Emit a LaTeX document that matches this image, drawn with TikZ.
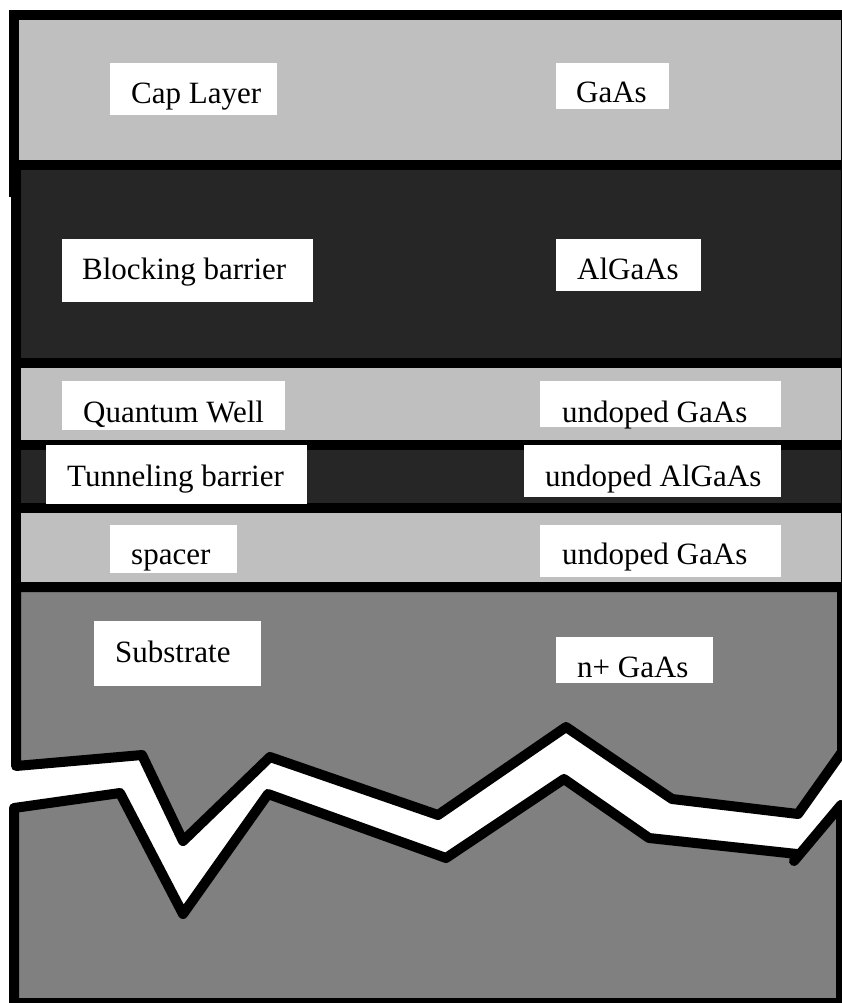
\documentclass[tikz,border=0pt]{standalone}
\usepackage{fontspec}
\setmainfont{Liberation Serif}
\definecolor{layerlight}{HTML}{BFBFBF}
\definecolor{layerdark}{HTML}{262626}
\definecolor{layersub}{HTML}{808080}
\begin{document}
\begin{tikzpicture}[x=1pt,y=-1pt,
  lyr/.style={draw=black,line width=10pt,line join=miter},
  lyrlight/.style={lyr,fill=layerlight},
  lyrdark/.style={lyr,fill=layerdark},
  lyrsub/.style={draw=black,line width=10pt,line join=round,line cap=round,fill=layersub},
  wbox/.style={fill=white,draw=none,inner sep=0pt,anchor=north west},
  lbl/.style={anchor=base west,inner sep=0pt,font=\fontsize{31}{36}\selectfont}]
\useasboundingbox (0,0) rectangle (841,1003);

% epitaxial stack, top to bottom
\path[lyrlight] (14,15) rectangle (846,192);   % cap layer
\path[lyrdark]  (16,165) rectangle (846,363);  % blocking barrier
\path[lyrlight] (16,363) rectangle (846,445);  % quantum well
\path[lyrdark]  (16,445) rectangle (846,508);  % tunneling barrier
\path[lyrlight] (16,508) rectangle (846,587);  % spacer

% substrate, shown broken
\path[lyrsub] (16,587) -- (842,587) -- (842,752) -- (798,814) -- (672,799)
  -- (566,727) -- (438,815) -- (270,757) -- (183,841) -- (142,755)
  -- (16,766) -- cycle;
\path[lyrsub] (14,808) -- (120,793) -- (183,914) -- (268,794) -- (446,858)
  -- (564,779) -- (649,838) -- (797,854) -- (794,861) -- (841,805)
  -- (841,1003) -- (14,1003) -- cycle;

% labels
\node[wbox,minimum width=167pt,minimum height=52pt] (capbox) at (110,63) {};
\node[lbl] (captxt) at (131,104) {Cap Layer};
\node[wbox,minimum width=113pt,minimum height=46pt] (capmat) at (556,63) {};
\node[lbl] (capmattxt) at (576,103) {GaAs};

\node[wbox,minimum width=251pt,minimum height=63pt] (blkbox) at (62,239) {};
\node[lbl] (blktxt) at (82,279) {Blocking barrier};
\node[wbox,minimum width=145pt,minimum height=52pt] (blkmat) at (556,239) {};
\node[lbl] (blkmattxt) at (577,279) {AlGaAs};

\node[wbox,minimum width=223pt,minimum height=49pt] (qwbox) at (62,381) {};
\node[lbl] (qwtxt) at (83,422) {Quantum Well};
\node[wbox,minimum width=241pt,minimum height=46pt] (qwmat) at (540,381) {};
\node[lbl] (qwmattxt) at (562,422) {undoped GaAs};

\node[wbox,minimum width=261pt,minimum height=59pt] (tunbox) at (46,445) {};
\node[lbl] (tuntxt) at (67,486) {Tunneling barrier};
\node[wbox,minimum width=257pt,minimum height=52pt] (tunmat) at (524,445) {};
\node[lbl] (tunmattxt) at (545,486) {undoped AlGaAs};

\node[wbox,minimum width=127pt,minimum height=48pt] (spcbox) at (110,525) {};
\node[lbl] (spctxt) at (131,564) {spacer};
\node[wbox,minimum width=241pt,minimum height=52pt] (spcmat) at (540,525) {};
\node[lbl] (spcmattxt) at (562,564) {undoped GaAs};

\node[wbox,minimum width=167pt,minimum height=65pt] (subbox) at (94,621) {};
\node[lbl] (subtxt) at (115,662) {Substrate};
\node[wbox,minimum width=157pt,minimum height=46pt] (submat) at (556,637) {};
\node[lbl] (submattxt) at (577,677) {n+ GaAs};
\end{tikzpicture}
\end{document}
